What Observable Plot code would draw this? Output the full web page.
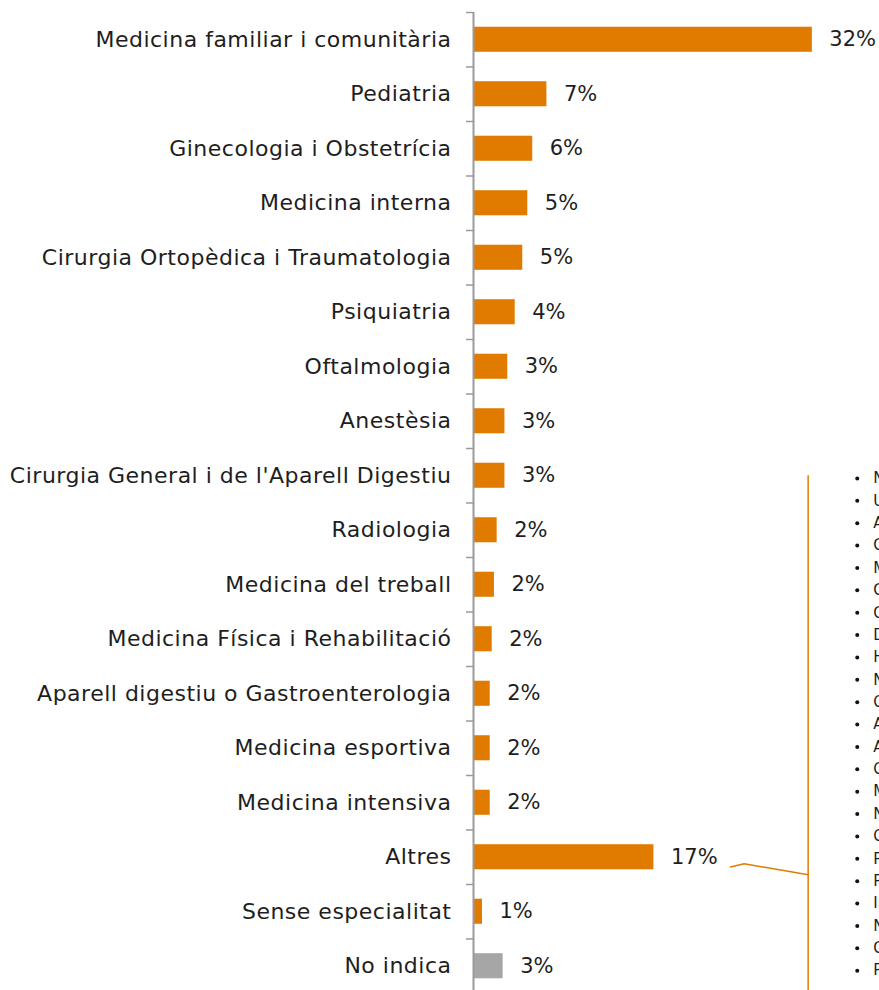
<!DOCTYPE html>
<html><head><meta charset="utf-8">
<script src="https://cdn.jsdelivr.net/npm/d3@7"></script>
<script src="https://cdn.jsdelivr.net/npm/@observablehq/plot@0.6"></script>
<style>html,body{margin:0;padding:0;overflow:hidden;background:#fff}
g.catlabels text{letter-spacing:0.5px}</style>
</head><body><div id="chart"></div>
<script>
const categories = [
  "Medicina familiar i comunitària",
  "Pediatria",
  "Ginecologia i Obstetrícia",
  "Medicina interna",
  "Cirurgia Ortopèdica i Traumatologia",
  "Psiquiatria",
  "Oftalmologia",
  "Anestèsia",
  "Cirurgia General i de l'Aparell Digestiu",
  "Radiologia",
  "Medicina del treball",
  "Medicina Física i Rehabilitació",
  "Aparell digestiu o Gastroenterologia",
  "Medicina esportiva",
  "Medicina intensiva",
  "Altres",
  "Sense especialitat",
  "No indica"
];
const values = [32.2, 6.9, 5.55, 5.08, 4.6, 3.88, 3.17, 2.9, 2.9, 2.16, 1.9, 1.69, 1.5, 1.5, 1.5, 17.1, 0.76, 2.73];
const otherSpecialties = [
  "Neurologia", "Urologia", "Angiologia i Cirurgia Vascular", "Cardiologia",
  "Medicina preventiva i Salut Pública", "Cirurgia Plàstica", "Cirurgia Pediàtrica",
  "Dermatologia", "Hematologia i Hemoteràpia", "Nefrologia", "Oncologia mèdica",
  "Anàlisis clíniques", "Anatomia patològica", "Otorrinolaringologia",
  "Microbiologia i Parasitologia", "Neurocirurgia", "Oncologia radioteràpica",
  "Pneumologia", "Reumatologia", "Immunologia", "Neurofisiologia clínica",
  "Cirurgia Toràcica", "Psicologia clínica"
];

const ORANGE = "#E07B00", GRAY = "#A6A6A6", INK = "#1e1e1e";
const data = categories.map((c, i) => ({cat: c, i, value: values[i], label: Math.round(values[i]) + "%"}));

// annotation layout (data units)
const bracketX = 31.8, bracketTop = 8.0, bracketBottom = 17.5;
const connector = [{x: 24.4, y: 15.18}, {x: 25.7, y: 15.12}, {x: bracketX, y: 15.32}];
const listX = 36.48, listY0 = 8.05, listStep = 0.4105;
const list = otherSpecialties.map((name, k) => ({name, y: listY0 + k * listStep}));
const boundaries = d3.range(-0.5, categories.length, 1);

const chart = Plot.plot({
  width: 879, height: 994,
  marginLeft: 474, marginRight: 0, marginTop: 12, marginBottom: 1,
  style: {fontFamily: "DejaVu Sans", fontSize: "20px", color: INK, background: "#fff"},
  x: {domain: [0, 38.6], axis: null},
  y: {domain: [-0.5, categories.length - 0.5], reverse: true, axis: null},
  marks: [
    Plot.rectX(data, {x1: 0, x2: "value", y1: d => d.i - 0.23, y2: d => d.i + 0.23,
      fill: d => d.cat === "No indica" ? GRAY : ORANGE}),
    Plot.ruleX([0], {y1: -0.5, y2: categories.length - 0.5, stroke: "#9a9a9a", strokeWidth: 2, dx: -1}),
    Plot.axisY(boundaries, {anchor: "left", tickSize: 7, tickFormat: () => "", label: null, stroke: "#9a9a9a", strokeWidth: 1.5, dx: -1}),
    Plot.text(data, {x: 0, y: "i", text: "cat", textAnchor: "end", dx: -23, fill: INK, fontSize: 22, className: "catlabels"}),
    Plot.text(data, {x: "value", y: "i", text: "label", textAnchor: "start", dx: 17, fill: INK, fontSize: 21}),
    Plot.ruleX([bracketX], {y1: bracketTop, y2: bracketBottom, stroke: ORANGE, strokeWidth: 1.5}),
    Plot.line(connector, {x: "x", y: "y", stroke: ORANGE, strokeWidth: 1.5}),
    Plot.dot(list, {x: listX, y: "y", r: 2, fill: "#111", stroke: null}),
    Plot.text(list, {x: listX, y: "y", text: "name", dx: 16, textAnchor: "start", fill: INK, fontSize: 15})
  ]
});
document.getElementById("chart").append(chart);
</script>
</body></html>
